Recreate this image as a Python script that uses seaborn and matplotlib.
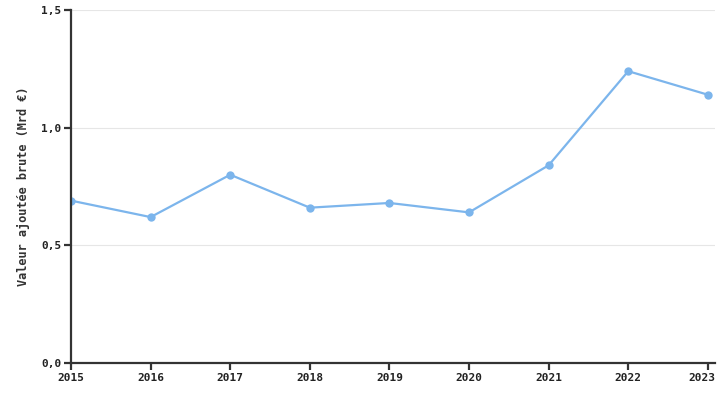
import pandas as pd
import matplotlib.pyplot as plt
import matplotlib.transforms as mtransforms
import seaborn as sns
from matplotlib.ticker import FixedLocator, FuncFormatter

years = [2015, 2016, 2017, 2018, 2019, 2020, 2021, 2022, 2023]
valeur = [0.69, 0.62, 0.80, 0.66, 0.68, 0.64, 0.84, 1.24, 1.14]

df = pd.DataFrame({'annee': years, 'valeur': valeur})

sns.set_style('white')
plt.rcParams['font.family'] = ['DejaVu Sans Mono']

fig = plt.figure(figsize=(7.25, 4), dpi=100)
ax = fig.add_axes([71 / 725, 37 / 400, 644 / 725, 353 / 400])

sns.lineplot(data=df, x='annee', y='valeur', ax=ax, color='#7cb5ec',
             linewidth=1.6, marker='o', markersize=6, markeredgewidth=0)

ax.set_xlim(2015, 2023.09)
ax.set_ylim(0, 1.5)
ax.xaxis.set_major_locator(FixedLocator(years))
ax.yaxis.set_major_locator(FixedLocator([0, 0.5, 1.0, 1.5]))
ax.yaxis.set_major_formatter(FuncFormatter(lambda v, p: f'{v:.1f}'.replace('.', ',')))
ax.grid(axis='y', color='#e6e6e6', linewidth=0.8)
ax.set_axisbelow(True)

for s in ['top', 'right']:
    ax.spines[s].set_visible(False)
for s in ['left', 'bottom']:
    ax.spines[s].set_color('#333333')
    ax.spines[s].set_linewidth(1.6)

ax.tick_params(axis='both', direction='out', length=5, width=1.6, color='#333333',
               labelsize=8, labelcolor='#222222', pad=2, bottom=True, left=True)
for lab in ax.get_xticklabels() + ax.get_yticklabels():
    lab.set_fontweight('bold')

# keep the last year label inside the figure
last = ax.get_xticklabels()[-1]
last.set_transform(last.get_transform() + mtransforms.ScaledTranslation(-6 / 100, 0, fig.dpi_scale_trans))

ax.set_xlabel('')
ax.set_ylabel('Valeur ajoutée brute (Mrd €)', fontsize=8.6, fontweight='bold', color='#333333', labelpad=8)

fig.savefig('out.png', dpi=100)
